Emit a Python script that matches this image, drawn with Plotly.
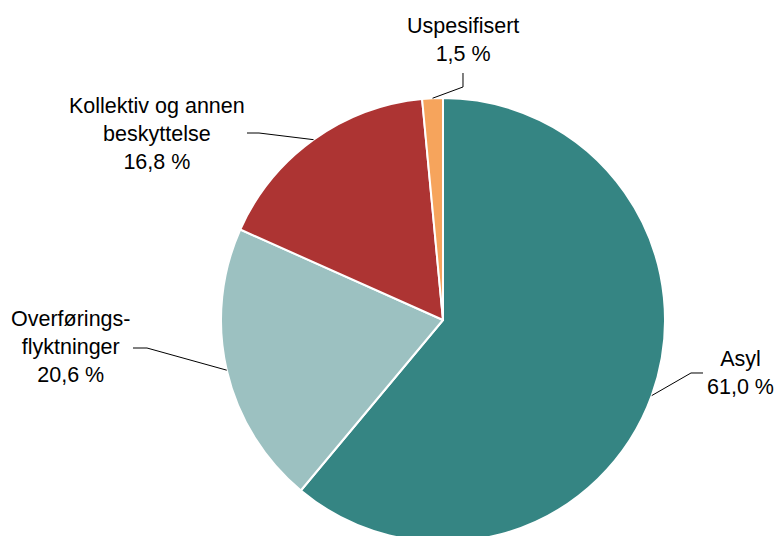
import math
import plotly.graph_objects as go

labels = ["Asyl", "Overførings-<br>flyktninger", "Kollektiv og annen<br>beskyttelse", "Uspesifisert"]
values = [61.0, 20.6, 16.8, 1.5]
colors = ["#358583", "#9cc1c1", "#ad3433", "#f6a45c"]

W, H = 774, 550
CX, CY, R = 443, 320, 222


def px(x):
    return x / W


def py(y):
    return (H - y) / H


fig = go.Figure(go.Pie(
    labels=labels,
    values=values,
    sort=False,
    direction="clockwise",
    rotation=0,
    marker=dict(colors=colors, line=dict(color="#ffffff", width=2)),
    textinfo="none",
    hoverinfo="label+percent",
    showlegend=False,
    domain=dict(x=[px(CX - R), px(CX + R)], y=[py(CY + R), py(CY - R)]),
))

# label positions (text centre) and elbow points of the leader lines
text_pos = [(740, 373), (70, 347), (157, 134), (463, 40)]
elbows = [[(703, 373), (691, 373)],
          [(133, 348), (147, 348)],
          [(247, 133), (259, 133)],
          [(463, 73), (463, 87)]]

total = sum(values)
cum = 0
for lab, val, tp, el in zip(labels, values, text_pos, elbows):
    mid = (cum + val / 2) / total * 2 * math.pi
    cum += val
    ex = CX + R * math.sin(mid)
    ey = CY - R * math.cos(mid)
    pts = el + [(ex, ey)]
    path = "M " + " L ".join(f"{px(x):.5f},{py(y):.5f}" for x, y in pts)
    fig.add_shape(type="path", xref="paper", yref="paper", path=path,
                  line=dict(color="#000000", width=1))
    pct = f"{val:.1f}".replace(".", ",") + " %"
    fig.add_annotation(x=px(tp[0]), y=py(tp[1]), xref="paper", yref="paper",
                       text=f"{lab}<br>{pct}", showarrow=False,
                       xanchor="center", yanchor="middle", align="center",
                       font=dict(size=21.5, color="#000000"))

fig.update_layout(
    width=W,
    height=H,
    margin=dict(l=0, r=0, t=0, b=0),
    paper_bgcolor="#ffffff",
    plot_bgcolor="#ffffff",
    font=dict(family="Liberation Sans, Arial, sans-serif", color="#000000"),
)

# no page margin / scrollbars, so the chart sits at the window's corner
fig.write_html("out.html", config={"displayModeBar": False},
               post_script="document.body.style.margin='0';document.body.style.overflow='hidden';")
